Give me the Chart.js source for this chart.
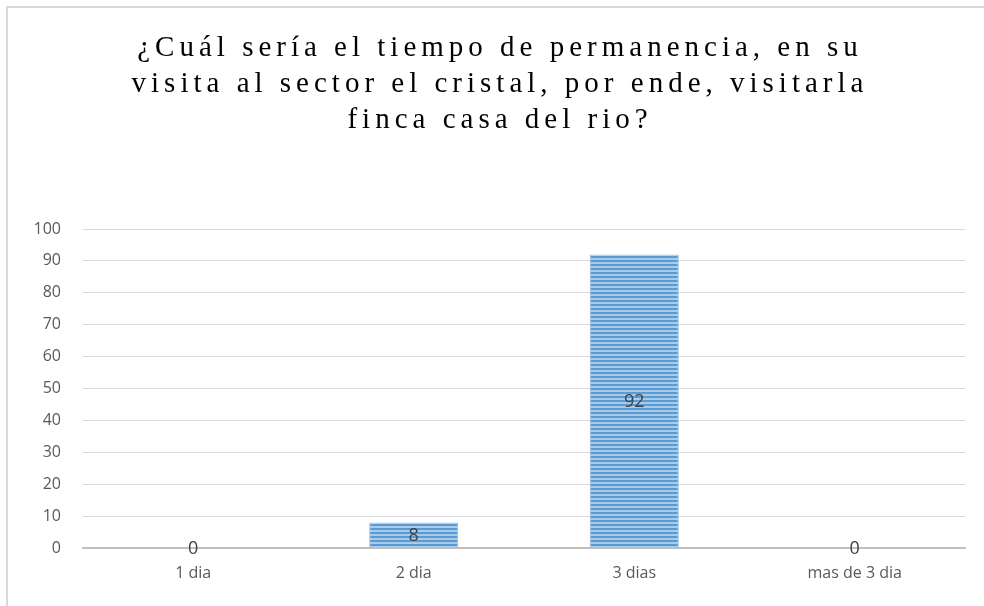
<!DOCTYPE html>
<html>
<head>
<meta charset="utf-8">
<script src="https://cdn.jsdelivr.net/npm/chart.js@4.4.0/dist/chart.umd.min.js"></script>
<style>
  html, body { margin: 0; padding: 0; background: #fff; }
  #wrap { position: relative; width: 984px; height: 606px; overflow: hidden; }
  #frame { position: absolute; left: 6px; top: 6px; width: 1000px; height: 700px; border-left: 2px solid #d9d9d9; border-top: 2px solid #d9d9d9; }
  #title {
    position: absolute; left: 60px; width: 880px; top: 28px;
    font-family: "Liberation Serif", "DejaVu Serif", serif;
    font-size: 29px; line-height: 36px; letter-spacing: 5px;
    color: #000; text-align: center;
  }
  canvas { position: absolute; left: 0; top: 0; }
</style>
</head>
<body>
<div id="wrap">
  <div id="frame"></div>
  <canvas id="chart" width="984" height="606"></canvas>
  <div id="title">¿Cuál sería el tiempo de permanencia, en su<br>visita al sector el cristal, por ende, visitarla<br>finca casa del rio?</div>
</div>
<script>
(function () {
    const categories = ['1 dia', '2 dia', '3 dias', 'mas de 3 dia'];
    const values = [0, 8, 92, 0];
    const yTicks = { min: 0, max: 100, step: 10 };

    // horizontal striped fill like the original
    function stripes() {
        var c = document.createElement('canvas');
        c.width = 4; c.height = 4;
        var g = c.getContext('2d');
        g.fillStyle = '#a9cbea';
        g.fillRect(0, 0, 4, 4);
        g.fillStyle = '#5b9bd5';
        g.fillRect(0, 0, 4, 2);
        return g.createPattern(c, 'repeat');
    }

    const valueLabels = {
        id: 'valueLabels',
        afterDatasetsDraw(chart) {
            var ctx = chart.ctx;
            var meta = chart.getDatasetMeta(0);
            ctx.save();
            ctx.font = '18px "Open Sans", "Liberation Sans", sans-serif';
            ctx.fillStyle = '#404040';
            ctx.textAlign = 'center';
            ctx.textBaseline = 'middle';
            meta.data.forEach(function (bar, i) {
                var mid = (bar.y + bar.base) / 2;
                ctx.fillText(String(values[i]), bar.x, mid + 1);
            });
            ctx.restore();
        }
    };

    var ctx = document.getElementById('chart');
    new Chart(ctx, {
        type: 'bar',
        data: {
            labels: categories,
            datasets: [{
                data: values,
                backgroundColor: stripes(),
                borderColor: '#8fb8e0',
                borderWidth: 1,
                categoryPercentage: 1,
                barPercentage: 0.404
            }]
        },
        options: {
            responsive: false,
            animation: false,
            layout: { padding: { left: 0, right: 19, top: 229, bottom: 0 } },
            plugins: {
                legend: { display: false },
                tooltip: { enabled: false }
            },
            scales: {
                x: {
                    grid: { display: false },
                    border: { color: '#bfbfbf', width: 2 },
                    ticks: {
                        color: '#595959',
                        font: { family: '"Open Sans", "Liberation Sans", sans-serif', size: 16 },
                        padding: 8
                    },
                    afterFit: function (s) { s.height = 58; }
                },
                y: {
                    min: yTicks.min,
                    max: yTicks.max,
                    grid: { color: '#d9d9d9', drawTicks: false },
                    border: { display: false },
                    ticks: {
                        stepSize: yTicks.step,
                        color: '#595959',
                        font: { family: '"Open Sans", "Liberation Sans", sans-serif', size: 16 },
                        padding: 22
                    },
                    afterFit: function (s) { s.width = 83; }
                }
            }
        },
        plugins: [valueLabels]
    });
})();
</script>
</body>
</html>
